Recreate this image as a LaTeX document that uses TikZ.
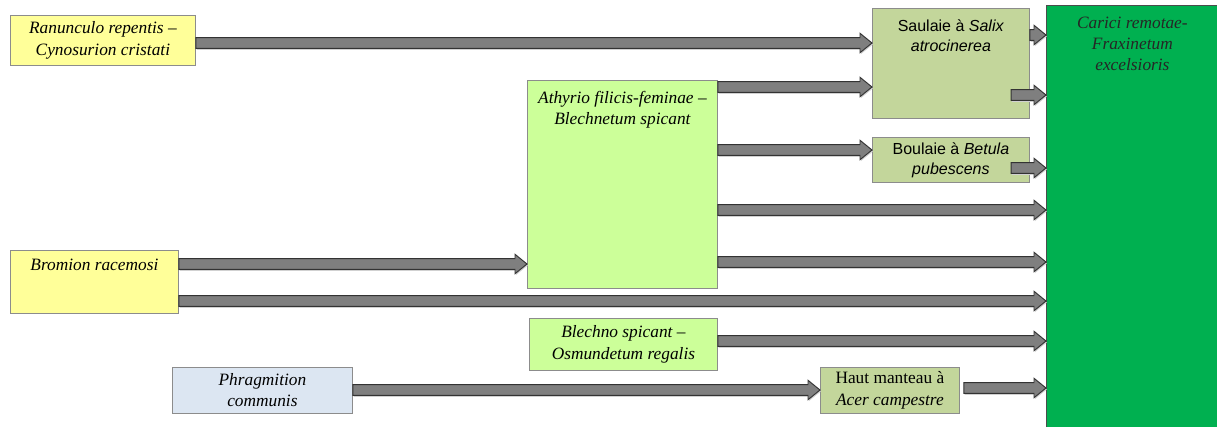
\documentclass[tikz,border=0pt]{standalone}
\usepackage{fontspec}
\setmainfont{Liberation Serif}
\newfontfamily\arialf{Liberation Sans}
\usetikzlibrary{calc}
\definecolor{yel}{HTML}{FFFF99}
\definecolor{lgreen}{HTML}{CCFF99}
\definecolor{olive}{HTML}{C3D69B}
\definecolor{lblue}{HTML}{DCE6F2}
\definecolor{dgreen}{HTML}{00B050}
\definecolor{arrfill}{HTML}{7F7F7F}
\definecolor{arrdraw}{HTML}{333333}
\definecolor{boxline}{HTML}{8C8C8C}
\begin{document}
\begin{tikzpicture}[x=0.75pt,y=-0.75pt,
  box/.style={draw=boxline, line width=0.6pt, anchor=north west, inner sep=2pt, align=center,
    font=\fontsize{13}{16}\selectfont\itshape},
  toplabel/.style={anchor=north, inner sep=0pt, align=center, font=\fontsize{13}{16}\selectfont\itshape},
  barrow/.style={fill=arrfill, draw=arrdraw, line width=0.7pt, line join=miter,
    preaction={fill=black!18, draw=none, transform canvas={xshift=0.6pt, yshift=-1.1pt}},
    to path={let \p1=(\tikztostart), \p2=(\tikztotarget) in
      (\x1,{\y1+4pt}) -- ({\x2-9pt},{\y1+4pt}) -- ({\x2-9pt},{\y1+7.3pt}) -- (\x2,\y1)
      -- ({\x2-9pt},{\y1-7.3pt}) -- ({\x2-9pt},{\y1-4pt}) -- (\x1,{\y1-4pt}) -- cycle}}]
\useasboundingbox (0,0) rectangle (1217,426);

\node[box, fill=yel, minimum width=185*0.75pt, minimum height=50*0.75pt] (rc) at (10,15)
  {Ranunculo repentis –\\Cynosurion cristati};
\node[box, fill=yel, minimum width=168*0.75pt, minimum height=63*0.75pt,
  label={[toplabel, yshift=-6.5pt]north:Bromion racemosi}] (br) at (10,250) {};
\node[box, fill=lblue, minimum width=180*0.75pt, minimum height=46*0.75pt] (ph) at (172,367)
  {Phragmition\\communis};
\node[box, fill=lgreen, minimum width=190*0.75pt, minimum height=208*0.75pt,
  label={[toplabel, yshift=-8pt]north:{Athyrio filicis-feminae –\\Blechnetum spicant}}] (at) at (527,80) {};
\node[box, fill=lgreen, minimum width=188*0.75pt, minimum height=52*0.75pt] (bl) at (529,318)
  {Blechno spicant –\\Osmundetum regalis};
\node[box, fill=olive, minimum width=157*0.75pt, minimum height=110*0.75pt,
  label={[toplabel, font=\arialf\fontsize{12}{15}\selectfont, yshift=-8.5pt]north:{Saulaie à \textit{Salix}\\\textit{atrocinerea}}}] (sa) at (872,8) {};
\node[box, fill=olive, font=\arialf\fontsize{12}{15}\selectfont, minimum width=157*0.75pt, minimum height=45*0.75pt] (bo) at (872,137)
  {Boulaie à \textit{Betula}\\\textit{pubescens}};
\node[box, fill=olive, font=\fontsize{13}{16}\selectfont, minimum width=139*0.75pt, minimum height=46*0.75pt] (hm) at (820,367)
  {Haut manteau à\\\textit{Acer campestre}};
\node[box, fill=dgreen, draw=black!70, minimum width=172*0.75pt, minimum height=425*0.75pt,
  label={[toplabel, text=black!85, yshift=-8.5pt]north:{Carici remotae-\\Fraxinetum\\excelsioris}}] (ca) at (1046,5) {};

\coordinate (sa2) at ([xshift=-14pt]sa.east);
\coordinate (bo2) at ([xshift=-14pt]bo.east);
\coordinate (hm2) at ([xshift=3pt]hm.east);

\draw[barrow] (rc.east |- 0,43) to (sa.west |- 0,43);
\draw[barrow] (at.east |- 0,87) to (sa.west |- 0,87);
\draw[barrow] (sa.east |- 0,35) to (ca.west |- 0,35);
\draw[barrow] (sa2 |- 0,95) to (ca.west |- 0,95);
\draw[barrow] (at.east |- 0,150) to (bo.west |- 0,150);
\draw[barrow] (bo2 |- 0,168) to (ca.west |- 0,168);
\draw[barrow] (at.east |- 0,210) to (ca.west |- 0,210);
\draw[barrow] (at.east |- 0,262) to (ca.west |- 0,262);
\draw[barrow] (br.east |- 0,264) to (at.west |- 0,264);
\draw[barrow] (br.east |- 0,301) to (ca.west |- 0,301);
\draw[barrow] (bl.east |- 0,341) to (ca.west |- 0,341);
\draw[barrow] (ph.east |- 0,390) to (hm.west |- 0,390);
\draw[barrow] (hm2 |- 0,388) to (ca.west |- 0,388);
\end{tikzpicture}
\end{document}
